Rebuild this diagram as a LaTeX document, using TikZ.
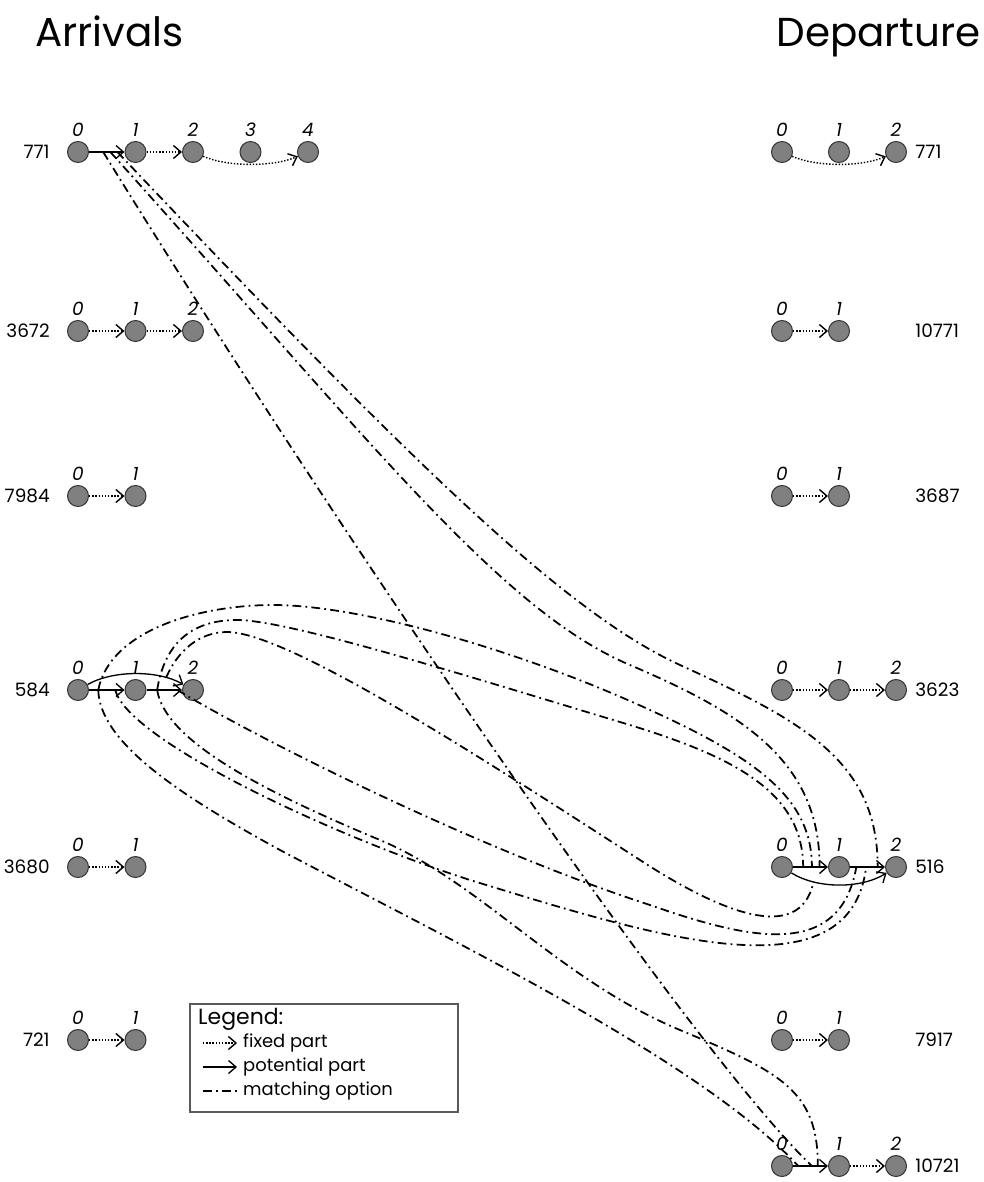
\documentclass[tikz,border=0pt]{standalone}
\usepackage{fontspec}
\setmainfont{Poppins}
\usetikzlibrary{arrows.meta}
\definecolor{cellgray}{RGB}{128,128,128}
\definecolor{rimgray}{RGB}{55,55,55}
\definecolor{framegray}{RGB}{90,90,90}

\tikzset{
  cell/.style={circle,draw=rimgray,fill=cellgray,line width=0.6pt,minimum size=0.42cm,inner sep=0pt},
  idx/.style={font=\fontsize{10.5}{11}\selectfont\itshape,inner sep=0pt},
  rowlabel/.style={font=\fontsize{10.5}{12}\selectfont,inner sep=0pt},
  heading/.style={font=\fontsize{23}{26}\selectfont,inner sep=0pt},
  fixedpart/.style={densely dotted,line width=0.8pt,-{Straight Barb[length=1.5mm,width=2.6mm]}},
  potential/.style={line width=0.75pt,-{Straight Barb[length=1.5mm,width=2.6mm]}},
  matching/.style={line width=1pt,dash pattern=on 5pt off 2.4pt on 1pt off 2.4pt},
  legendhead/.style={font=\fontsize{12.5}{14}\selectfont},
  legenditem/.style={font=\fontsize{10.2}{12}\selectfont},
}

\begin{document}
\begin{tikzpicture}[x=0.02cm,y=-0.02cm]
\useasboundingbox (0,0) rectangle (983,1182);

\node[heading,anchor=base west] (arr) at (35,47) {Arrivals};
\node[heading,anchor=base east] (dep) at (981,47) {Departure};

% arrival trains
\foreach \lbl/\y/\last [count=\r] in {771/152/4,3672/331/2,7984/496/1,584/690/2,3680/867/1,721/1040/1}{
  \node[rowlabel,anchor=east] (la\r) at (50,\y) {\lbl};
  \foreach \i in {0,...,\last}{
    \node[cell] (l\r-\i) at (78+57.5*\i,\y) {};
    \node[idx] (il\r-\i) at (78+57.5*\i,\y-22) {\i};
  }
}

% departure trains
\foreach \lbl/\y/\last [count=\r] in {771/152/2,10771/331/1,3687/496/1,3623/690/2,516/867/2,7917/1040/1,10721/1166/2}{
  \node[rowlabel,anchor=west] (ra\r) at (915,\y) {\lbl};
  \foreach \i in {0,...,\last}{
    \node[cell] (r\r-\i) at (782+57*\i,\y) {};
    \node[idx] (ir\r-\i) at (782+57*\i,\y-22) {\i};
  }
}

% fixed parts
\foreach \a/\b in {l1-1/l1-2,l2-0/l2-1,l2-1/l2-2,l3-0/l3-1,l5-0/l5-1,l6-0/l6-1,
                   r2-0/r2-1,r3-0/r3-1,r4-0/r4-1,r4-1/r4-2,r6-0/r6-1,r7-1/r7-2}
  \draw[fixedpart] (\a) -- (\b);
\draw[fixedpart] (l1-2) .. controls +(35,15) and +(-35,15) .. (l1-4);
\draw[fixedpart] (r1-0) .. controls +(35,15) and +(-35,15) .. (r1-2);

% potential parts
\draw[potential] (l1-0) -- (l1-1) coordinate[pos=.4] (aA) coordinate[pos=.6] (aB) coordinate[pos=.8] (aC);
\draw[potential] (l4-0) -- (l4-1) coordinate[pos=.26] (pA) coordinate[pos=.74] (pB);
\draw[potential] (l4-1) -- (l4-2) coordinate[pos=.3] (qA) coordinate[pos=.87] (qB);
\draw[potential] (l4-0) .. controls +(35,-20) and +(-35,-20) .. (l4-2) coordinate[pos=.8] (pq);
\draw[potential] (r5-0) -- (r5-1) coordinate[pos=.29] (uA) coordinate[pos=.54] (uB) coordinate[pos=.76] (uC);
\draw[potential] (r5-1) -- (r5-2) coordinate[pos=.18] (vA) coordinate[pos=.46] (vB) coordinate[pos=.79] (vC);
\draw[potential] (r5-0) .. controls +(35,22) and +(-35,22) .. (r5-2) coordinate[pos=.25] (uv);
\draw[potential] (r7-0) -- (r7-1) coordinate[pos=.15] (wA) coordinate[pos=.54] (wB) coordinate[pos=.71] (wC);

% matching options of 771
\draw[matching] (aA) .. controls (330,520) and (690,1050) .. (wB);
\draw[matching] (aB) .. controls (370,440) and (500,610) .. (630,665) .. controls (740,712) and (820,760) .. (uC);
\draw[matching] (aC) .. controls (400,450) and (560,610) .. (680,665) .. controls (800,720) and (878,760) .. (vC);
% matching options of 584, over the top
\draw[matching] (pA) .. controls (110,630) and (200,605) .. (273,605) .. controls (360,605) and (520,650) .. (650,710) .. controls (760,760) and (812,800) .. (uB);
\draw[matching] (qA) .. controls (165,640) and (195,620) .. (237,620) .. controls (290,620) and (480,680) .. (620,722) .. controls (730,755) and (803,790) .. (uA);
\draw[matching] (pq) .. controls (178,650) and (200,632) .. (227,632) .. controls (290,632) and (500,770) .. (640,860) .. controls (720,912) and (800,945) .. (uv);
% matching options of 584, underneath
\draw[matching] (qB) .. controls (260,740) and (480,850) .. (650,905) .. controls (750,940) and (840,960) .. (vA);
\draw[matching] (pB) .. controls (128,740) and (330,835) .. (470,880) .. controls (650,935) and (850,1000) .. (vB);
\draw[matching] (qA) .. controls (165,740) and (260,790) .. (380,840) .. controls (480,882) and (560,980) .. (680,1030) .. controls (780,1072) and (818,1090) .. (wC);
\draw[matching] (pA) .. controls (100,740) and (170,790) .. (280,850) .. controls (450,940) and (700,1060) .. (wA);

% legend
\draw[framegray,line width=0.6pt] (190,1004) rectangle (458,1112);
\node[legendhead,anchor=west] (lgd) at (192,1019) {Legend:};
\node[legenditem,anchor=west] (lg1) at (237,1043) {fixed part};
\node[legenditem,anchor=west] (lg2) at (237,1067) {potential part};
\node[legenditem,anchor=west] (lg3) at (237,1091) {matching option};
\coordinate (s1) at (203,1043);
\coordinate (s2) at (203,1067);
\coordinate (s3) at (203,1091);
\draw[fixedpart] (s1) -- (lg1);
\draw[potential] (s2) -- (lg2);
\draw[matching] (s3) -- (lg3);
\end{tikzpicture}
\end{document}
